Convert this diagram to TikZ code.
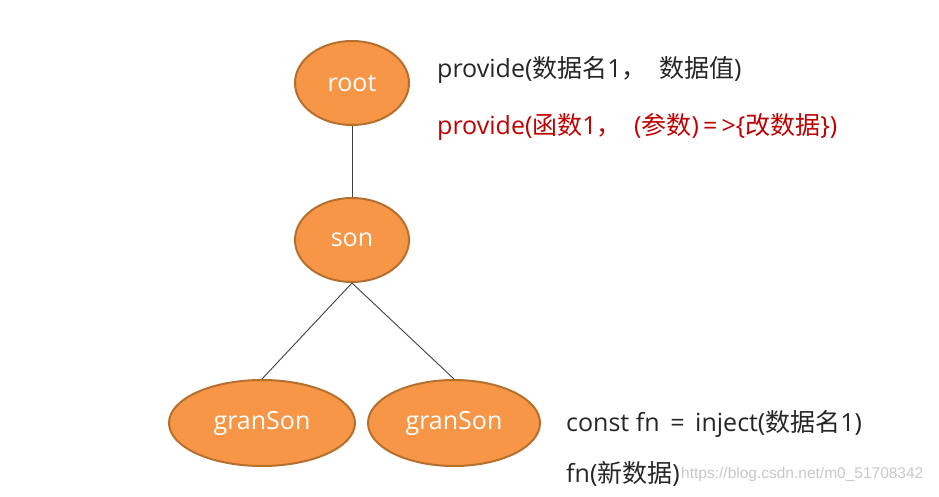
\documentclass[tikz,border=0pt]{standalone}
\usepackage{fontspec}
\usetikzlibrary{shapes.geometric}
\setmainfont{Open Sans}
\newfontfamily\cjk{Noto Sans CJK SC}
\newfontfamily\wmfont{Liberation Sans}
\definecolor{nodefill}{HTML}{F79646}
\definecolor{nodeline}{HTML}{B5702E}
\definecolor{txtdark}{HTML}{262626}
\definecolor{txtred}{HTML}{C00000}
\definecolor{edgecol}{HTML}{404040}
\begin{document}
\begin{tikzpicture}[x=1pt,y=-1pt,
  oval/.style={ellipse,draw=nodeline,line width=2pt,fill=nodefill,text=white,
    font=\fontsize{25}{28}\selectfont,inner sep=0pt,anchor=center},
  edge/.style={draw=edgecol,line width=0.9pt},
  note/.style={anchor=west,inner sep=0pt,font=\fontsize{25}{28}\selectfont,text=txtdark},
]
\useasboundingbox (0,0) rectangle (939,497);
\node[oval,minimum width=114pt,minimum height=84pt] (root) at (352,83) {root};
\node[oval,minimum width=114pt,minimum height=84pt] (son) at (352,240) {son};
\node[oval,minimum width=186pt,minimum height=86pt] (g1) at (262,423) {granSon};
\node[oval,minimum width=172pt,minimum height=86pt] (g2) at (454,423) {granSon};
\draw[edge] (root.south) -- (son.north);
\draw[edge] (son.south) -- (g1.north);
\draw[edge] (son.south) -- (g2.north);
\node[note] (t1) at (437,70) {provide({\cjk 数据名}1{\cjk ，}\hspace{6pt} {\cjk 数据值})};
\node[note,text=txtred] (t2) at (437,127) {provide({\cjk 函数}1{\cjk ，}\hspace{6pt} ({\cjk 参数})\,=\,>\{{\cjk 改数据}\})};
\node[note] (t3) at (566,424) {const fn \,=\, inject({\cjk 数据名}1)};
\node[note] (t4) at (566,474) {fn({\cjk 新数据})};
\node[anchor=west,inner sep=0pt,text=black!22,font=\wmfont\fontsize{15.5}{18}\selectfont] (wm) at ([xshift=1pt]t4.east) {https://blog.csdn.net/m0\_51708342};
\end{tikzpicture}
\end{document}
